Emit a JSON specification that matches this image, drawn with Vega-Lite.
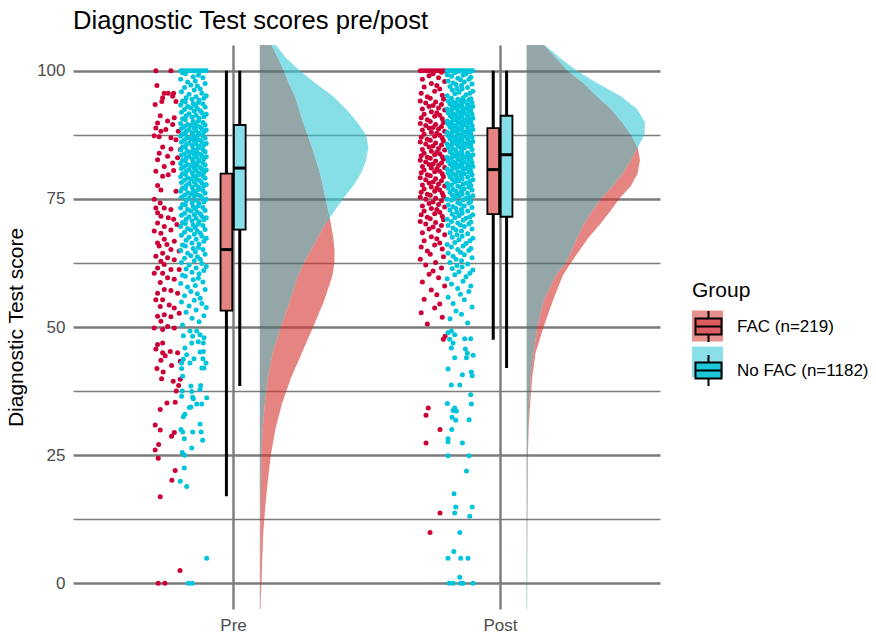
{
"$schema":"https://vega.github.io/schema/vega-lite/v6.json",
"width":587,"height":564,
"autosize":"none",
"padding":{"left":73,"top":45,"right":216,"bottom":26},
"background":"white",
"title":{"text":"Diagnostic Test scores pre/post","anchor":"start","frame":"group","fontSize":25.6,"font":"Liberation Sans","fontWeight":"normal","color":"black","offset":10},
"config":{"view":{"stroke":null},"font":"Liberation Sans"},
"datasets":{
"dens":[
{"time":"Pre","group":"FAC","score":-5,"density":0.018},{"time":"Pre","group":"FAC","score":0,"density":0.043},{"time":"Pre","group":"FAC","score":5,"density":0.063},{"time":"Pre","group":"FAC","score":10,"density":0.088},{"time":"Pre","group":"FAC","score":15,"density":0.138},{"time":"Pre","group":"FAC","score":20,"density":0.2},{"time":"Pre","group":"FAC","score":25,"density":0.275},{"time":"Pre","group":"FAC","score":30,"density":0.388},{"time":"Pre","group":"FAC","score":35,"density":0.55},{"time":"Pre","group":"FAC","score":40,"density":0.775},{"time":"Pre","group":"FAC","score":45,"density":1.05},{"time":"Pre","group":"FAC","score":50,"density":1.33},{"time":"Pre","group":"FAC","score":55,"density":1.6},{"time":"Pre","group":"FAC","score":60,"density":1.81},{"time":"Pre","group":"FAC","score":62.5,"density":1.86},{"time":"Pre","group":"FAC","score":65,"density":1.863},{"time":"Pre","group":"FAC","score":67.5,"density":1.83},{"time":"Pre","group":"FAC","score":70,"density":1.775},{"time":"Pre","group":"FAC","score":72.5,"density":1.713},{"time":"Pre","group":"FAC","score":75,"density":1.638},{"time":"Pre","group":"FAC","score":77.5,"density":1.575},{"time":"Pre","group":"FAC","score":80,"density":1.5},{"time":"Pre","group":"FAC","score":82.5,"density":1.4},{"time":"Pre","group":"FAC","score":85,"density":1.3},{"time":"Pre","group":"FAC","score":87.5,"density":1.188},{"time":"Pre","group":"FAC","score":90,"density":1.075},{"time":"Pre","group":"FAC","score":92.5,"density":0.975},{"time":"Pre","group":"FAC","score":95,"density":0.875},{"time":"Pre","group":"FAC","score":97.5,"density":0.725},{"time":"Pre","group":"FAC","score":100,"density":0.6},{"time":"Pre","group":"FAC","score":102.5,"density":0.45},{"time":"Pre","group":"FAC","score":105,"density":0.293},
{"time":"Pre","group":"No FAC","score":-5,"density":0.008},{"time":"Pre","group":"No FAC","score":0,"density":0.013},{"time":"Pre","group":"No FAC","score":5,"density":0.015},{"time":"Pre","group":"No FAC","score":10,"density":0.018},{"time":"Pre","group":"No FAC","score":15,"density":0.025},{"time":"Pre","group":"No FAC","score":20,"density":0.033},{"time":"Pre","group":"No FAC","score":25,"density":0.043},{"time":"Pre","group":"No FAC","score":30,"density":0.07},{"time":"Pre","group":"No FAC","score":35,"density":0.125},{"time":"Pre","group":"No FAC","score":40,"density":0.2},{"time":"Pre","group":"No FAC","score":45,"density":0.325},{"time":"Pre","group":"No FAC","score":50,"density":0.525},{"time":"Pre","group":"No FAC","score":55,"density":0.75},{"time":"Pre","group":"No FAC","score":60,"density":0.95},{"time":"Pre","group":"No FAC","score":62.5,"density":1.1},{"time":"Pre","group":"No FAC","score":65,"density":1.275},{"time":"Pre","group":"No FAC","score":67.5,"density":1.45},{"time":"Pre","group":"No FAC","score":70,"density":1.625},{"time":"Pre","group":"No FAC","score":72.5,"density":1.85},{"time":"Pre","group":"No FAC","score":75,"density":2.075},{"time":"Pre","group":"No FAC","score":77.5,"density":2.325},{"time":"Pre","group":"No FAC","score":80,"density":2.525},{"time":"Pre","group":"No FAC","score":82.5,"density":2.65},{"time":"Pre","group":"No FAC","score":85,"density":2.708},{"time":"Pre","group":"No FAC","score":87.5,"density":2.65},{"time":"Pre","group":"No FAC","score":90,"density":2.425},{"time":"Pre","group":"No FAC","score":92.5,"density":2.15},{"time":"Pre","group":"No FAC","score":95,"density":1.825},{"time":"Pre","group":"No FAC","score":97.5,"density":1.4},{"time":"Pre","group":"No FAC","score":100,"density":1.0},{"time":"Pre","group":"No FAC","score":102.5,"density":0.65},{"time":"Pre","group":"No FAC","score":105,"density":0.4},
{"time":"Post","group":"FAC","score":-5,"density":0.01},{"time":"Post","group":"FAC","score":0,"density":0.013},{"time":"Post","group":"FAC","score":5,"density":0.015},{"time":"Post","group":"FAC","score":10,"density":0.02},{"time":"Post","group":"FAC","score":15,"density":0.025},{"time":"Post","group":"FAC","score":20,"density":0.03},{"time":"Post","group":"FAC","score":25,"density":0.033},{"time":"Post","group":"FAC","score":30,"density":0.05},{"time":"Post","group":"FAC","score":35,"density":0.088},{"time":"Post","group":"FAC","score":40,"density":0.138},{"time":"Post","group":"FAC","score":45,"density":0.225},{"time":"Post","group":"FAC","score":50,"density":0.425},{"time":"Post","group":"FAC","score":55,"density":0.65},{"time":"Post","group":"FAC","score":60,"density":0.9},{"time":"Post","group":"FAC","score":62.5,"density":1.1},{"time":"Post","group":"FAC","score":65,"density":1.325},{"time":"Post","group":"FAC","score":67.5,"density":1.55},{"time":"Post","group":"FAC","score":70,"density":1.825},{"time":"Post","group":"FAC","score":72.5,"density":2.075},{"time":"Post","group":"FAC","score":75,"density":2.308},{"time":"Post","group":"FAC","score":77.5,"density":2.6},{"time":"Post","group":"FAC","score":80,"density":2.768},{"time":"Post","group":"FAC","score":82.5,"density":2.825},{"time":"Post","group":"FAC","score":85,"density":2.768},{"time":"Post","group":"FAC","score":87.5,"density":2.6},{"time":"Post","group":"FAC","score":90,"density":2.375},{"time":"Post","group":"FAC","score":92.5,"density":2.1},{"time":"Post","group":"FAC","score":95,"density":1.75},{"time":"Post","group":"FAC","score":97.5,"density":1.425},{"time":"Post","group":"FAC","score":100,"density":1.025},{"time":"Post","group":"FAC","score":102.5,"density":0.725},{"time":"Post","group":"FAC","score":105,"density":0.433},
{"time":"Post","group":"No FAC","score":-5,"density":0.013},{"time":"Post","group":"No FAC","score":0,"density":0.018},{"time":"Post","group":"No FAC","score":5,"density":0.018},{"time":"Post","group":"No FAC","score":10,"density":0.018},{"time":"Post","group":"No FAC","score":15,"density":0.02},{"time":"Post","group":"No FAC","score":20,"density":0.023},{"time":"Post","group":"No FAC","score":25,"density":0.025},{"time":"Post","group":"No FAC","score":30,"density":0.038},{"time":"Post","group":"No FAC","score":35,"density":0.063},{"time":"Post","group":"No FAC","score":40,"density":0.1},{"time":"Post","group":"No FAC","score":45,"density":0.175},{"time":"Post","group":"No FAC","score":50,"density":0.268},{"time":"Post","group":"No FAC","score":55,"density":0.42},{"time":"Post","group":"No FAC","score":60,"density":0.72},{"time":"Post","group":"No FAC","score":62.5,"density":0.98},{"time":"Post","group":"No FAC","score":65,"density":1.13},{"time":"Post","group":"No FAC","score":67.5,"density":1.27},{"time":"Post","group":"No FAC","score":70,"density":1.425},{"time":"Post","group":"No FAC","score":72.5,"density":1.625},{"time":"Post","group":"No FAC","score":75,"density":1.85},{"time":"Post","group":"No FAC","score":77.5,"density":2.15},{"time":"Post","group":"No FAC","score":80,"density":2.4},{"time":"Post","group":"No FAC","score":82.5,"density":2.6},{"time":"Post","group":"No FAC","score":85,"density":2.768},{"time":"Post","group":"No FAC","score":87.5,"density":2.938},{"time":"Post","group":"No FAC","score":90,"density":2.95},{"time":"Post","group":"No FAC","score":92.5,"density":2.75},{"time":"Post","group":"No FAC","score":95,"density":2.35},{"time":"Post","group":"No FAC","score":97.5,"density":1.775},{"time":"Post","group":"No FAC","score":100,"density":1.25},{"time":"Post","group":"No FAC","score":102.5,"density":0.825},{"time":"Post","group":"No FAC","score":105,"density":0.45}
],
"boxes":[
{"time":"Pre","group":"FAC","lo":17,"q1":53.2,"med":65.1,"q3":79.9,"hi":100},
{"time":"Pre","group":"No FAC","lo":38.5,"q1":69,"med":81,"q3":89.4,"hi":100},
{"time":"Post","group":"FAC","lo":47.5,"q1":72,"med":80.7,"q3":88.8,"hi":100},
{"time":"Post","group":"No FAC","lo":42,"q1":71.5,"med":83.6,"q3":91.2,"hi":100}
],
"pre_fac":[
{"s":100,"j":-0.83},{"s":100,"j":0.3},{"s":97.1,"j":-0.75},{"s":95.6,"j":-0.2},{"s":95.6,"j":0.1},{"s":95.6,"j":0.5},{"s":94.7,"j":-0.32},{"s":94.0,"j":-0.38},{"s":93.4,"j":-0.88},{"s":94.0,"j":0.68},{"s":95.0,"j":0.43},{"s":91.2,"j":-0.5},{"s":90.8,"j":0.55},{"s":90.2,"j":0.05},{"s":89.8,"j":-0.7},{"s":89.5,"j":0.43},{"s":88.8,"j":-0.83},{"s":88.5,"j":-0.08},{"s":88.2,"j":-0.45},{"s":88.2,"j":0.85},{"s":87.3,"j":-0.95},{"s":87.1,"j":-0.58},{"s":86.9,"j":0.3},{"s":86.5,"j":0.68},{"s":85.1,"j":-0.32},{"s":84.7,"j":0.3},{"s":84.6,"j":1.0},{"s":83.9,"j":-0.58},{"s":83.3,"j":0.05},{"s":82.6,"j":-0.7},{"s":83.0,"j":0.8},{"s":82.0,"j":0.43},{"s":81.3,"j":-0.2},{"s":80.4,"j":-0.83},{"s":80.5,"j":0.5},{"s":79.7,"j":0.1},{"s":79.4,"j":-0.32},{"s":77.6,"j":-0.7},{"s":76.7,"j":-0.45},{"s":76.5,"j":0.68},{"s":74.9,"j":-0.95},{"s":74.2,"j":-0.5},{"s":73.2,"j":-0.83},{"s":73.2,"j":-0.2},{"s":72.9,"j":0.3},{"s":72.3,"j":-0.7},{"s":71.6,"j":-0.45},{"s":71.3,"j":0.1},{"s":71.0,"j":0.5},{"s":70.3,"j":-0.7},{"s":69.6,"j":-0.2},{"s":70.0,"j":0.75},{"s":68.7,"j":-0.95},{"s":68.3,"j":-0.45},{"s":68.9,"j":0.3},{"s":67.1,"j":-0.2},{"s":66.4,"j":-0.7},{"s":66.7,"j":0.55},{"s":66.1,"j":0.0},{"s":65.8,"j":-0.58},{"s":65.1,"j":0.3},{"s":64.4,"j":-0.32},{"s":64.8,"j":0.92},{"s":63.8,"j":-0.83},{"s":63.5,"j":0.05},{"s":62.8,"j":-0.45},{"s":63.1,"j":0.55},{"s":62.2,"j":-0.2},{"s":61.5,"j":-0.7},{"s":61.2,"j":0.3},{"s":61.2,"j":0.92},{"s":60.5,"j":-0.32},{"s":60.5,"j":-0.95},{"s":59.6,"j":0.05},{"s":59.3,"j":0.55},{"s":58.7,"j":-0.5},{"s":57.3,"j":-0.2},{"s":57.1,"j":0.3},{"s":56.6,"j":-0.7},{"s":56.6,"j":0.8},{"s":55.3,"j":-0.32},{"s":55.3,"j":-0.83},{"s":54.3,"j":0.17},{"s":54.0,"j":-0.5},{"s":53.7,"j":0.55},{"s":52.4,"j":-0.2},{"s":52.1,"j":-0.7},{"s":52.0,"j":0.3},{"s":52.7,"j":0.92},{"s":51.1,"j":-0.45},{"s":50.1,"j":0.05},{"s":49.8,"j":0.55},{"s":49.5,"j":-0.32},{"s":49.8,"j":-0.95},
{"s":46.6,"j":-0.7},{"s":46.9,"j":-0.32},{"s":45.7,"j":-0.83},{"s":45.0,"j":-0.32},{"s":44.4,"j":-0.13},{"s":45.2,"j":0.25},{"s":45.0,"j":0.8},{"s":43.5,"j":-0.45},{"s":43.3,"j":1.0},{"s":42.5,"j":0.35},{"s":41.9,"j":-0.75},{"s":41.2,"j":-0.28},{"s":39.9,"j":-0.4},{"s":39.4,"j":0.47},{"s":39.8,"j":1.0},{"s":38.6,"j":0.88},{"s":37.5,"j":0.7},{"s":35.2,"j":0.0},{"s":35.3,"j":0.62},{"s":33.9,"j":-0.5},{"s":30.9,"j":-0.88},{"s":29.9,"j":-0.5},{"s":29.4,"j":0.55},{"s":28.7,"j":0.35},{"s":27.1,"j":-0.62},{"s":26.0,"j":-0.88},{"s":24.4,"j":-0.65},{"s":22.0,"j":0.62},{"s":20.1,"j":0.37},{"s":16.9,"j":-0.5},{"s":2.5,"j":0.98},{"s":0,"j":-0.65},{"s":0,"j":-0.15}
],
"post_fac":[
{"s":48.2,"j":0.93},{"s":47.6,"j":0.8},{"s":34.2,"j":-0.33},{"s":32.8,"j":-0.5},{"s":30.0,"j":0.55},{"s":27.4,"j":-0.5},{"s":13.7,"j":0.55},{"s":9.9,"j":-0.2},
{"s":50.6,"j":-0.4},{"s":51.9,"j":0.72},{"s":52.8,"j":-0.86},{"s":53.7,"j":0.15},{"s":54.5,"j":0.53},{"s":55.4,"j":-0.64},{"s":56.3,"j":0.31},{"s":57.2,"j":-0.1},{"s":58.0,"j":0.9},{"s":58.8,"j":-0.77},{"s":59.6,"j":0.44},{"s":60.3,"j":-0.27},{"s":60.9,"j":0.03},{"s":61.5,"j":0.66},{"s":62.1,"j":-0.52},{"s":62.6,"j":0.22},{"s":63.2,"j":-0.93},{"s":63.7,"j":0.81},{"s":64.2,"j":-0.18},
{"s":64.8,"j":-0.4},{"s":65.2,"j":0.72},{"s":65.6,"j":-0.86},{"s":66.0,"j":0.15},{"s":66.4,"j":0.53},{"s":66.8,"j":-0.64},{"s":67.2,"j":0.31},{"s":67.6,"j":-0.1},{"s":68.0,"j":0.9},{"s":68.4,"j":-0.77},{"s":68.8,"j":0.44},{"s":69.1,"j":-0.27},{"s":69.5,"j":0.03},{"s":69.8,"j":0.66},{"s":70.1,"j":-0.52},{"s":70.4,"j":0.22},{"s":70.6,"j":-0.93},{"s":70.9,"j":0.81},{"s":71.1,"j":-0.18},
{"s":71.4,"j":-0.4},{"s":71.6,"j":0.72},{"s":71.9,"j":-0.86},{"s":72.1,"j":0.15},{"s":72.4,"j":0.53},{"s":72.6,"j":-0.64},{"s":72.9,"j":0.31},{"s":73.1,"j":-0.1},{"s":73.4,"j":0.9},{"s":73.6,"j":-0.77},{"s":73.9,"j":0.44},{"s":74.1,"j":-0.27},{"s":74.4,"j":0.03},{"s":74.6,"j":0.66},{"s":74.9,"j":-0.52},{"s":75.1,"j":0.22},{"s":75.3,"j":-0.93},{"s":75.5,"j":0.81},{"s":75.7,"j":-0.18},
{"s":75.9,"j":-0.4},{"s":76.1,"j":0.72},{"s":76.3,"j":-0.86},{"s":76.5,"j":0.15},{"s":76.7,"j":0.53},{"s":76.9,"j":-0.64},{"s":77.1,"j":0.31},{"s":77.3,"j":-0.1},{"s":77.5,"j":0.9},{"s":77.7,"j":-0.77},{"s":77.9,"j":0.44},{"s":78.1,"j":-0.27},{"s":78.3,"j":0.03},{"s":78.5,"j":0.66},{"s":78.7,"j":-0.52},{"s":78.9,"j":0.22},{"s":79.1,"j":-0.93},{"s":79.3,"j":0.81},{"s":79.5,"j":-0.18},
{"s":79.7,"j":-0.4},{"s":79.9,"j":0.72},{"s":80.1,"j":-0.86},{"s":80.3,"j":0.15},{"s":80.4,"j":0.53},{"s":80.6,"j":-0.64},{"s":80.8,"j":0.31},{"s":81.0,"j":-0.1},{"s":81.1,"j":0.9},{"s":81.3,"j":-0.77},{"s":81.5,"j":0.44},{"s":81.7,"j":-0.27},{"s":81.8,"j":0.03},{"s":82.0,"j":0.66},{"s":82.2,"j":-0.52},{"s":82.4,"j":0.22},{"s":82.5,"j":-0.93},{"s":82.7,"j":0.81},{"s":82.9,"j":-0.18},
{"s":83.1,"j":-0.4},{"s":83.2,"j":0.72},{"s":83.4,"j":-0.86},{"s":83.6,"j":0.15},{"s":83.8,"j":0.53},{"s":83.9,"j":-0.64},{"s":84.1,"j":0.31},{"s":84.3,"j":-0.1},{"s":84.5,"j":0.9},{"s":84.6,"j":-0.77},{"s":84.8,"j":0.44},{"s":85.1,"j":-0.27},{"s":85.3,"j":0.03},{"s":85.5,"j":0.66},{"s":85.7,"j":-0.52},{"s":85.9,"j":0.22},{"s":86.1,"j":-0.93},{"s":86.3,"j":0.81},{"s":86.4,"j":-0.18},
{"s":86.6,"j":-0.4},{"s":86.8,"j":0.72},{"s":87.0,"j":-0.86},{"s":87.2,"j":0.15},{"s":87.4,"j":0.53},{"s":87.6,"j":-0.64},{"s":87.8,"j":0.31},{"s":88.0,"j":-0.1},{"s":88.2,"j":0.9},{"s":88.4,"j":-0.77},{"s":88.6,"j":0.44},{"s":88.8,"j":-0.27},{"s":88.9,"j":0.03},{"s":89.1,"j":0.66},{"s":89.3,"j":-0.52},{"s":89.5,"j":0.22},{"s":89.7,"j":-0.93},{"s":89.9,"j":0.81},{"s":90.1,"j":-0.18},
{"s":90.4,"j":-0.4},{"s":90.6,"j":0.72},{"s":90.8,"j":-0.86},{"s":91.1,"j":0.15},{"s":91.3,"j":0.53},{"s":91.5,"j":-0.64},{"s":91.8,"j":0.31},{"s":92.0,"j":-0.1},{"s":92.3,"j":0.9},{"s":92.5,"j":-0.77},{"s":92.7,"j":0.44},{"s":93.0,"j":-0.27},{"s":93.2,"j":0.03},{"s":93.4,"j":0.66},{"s":93.7,"j":-0.52},{"s":93.9,"j":0.22},{"s":94.1,"j":-0.93},{"s":94.4,"j":0.81},{"s":94.6,"j":-0.18},
{"s":94.9,"j":-0.4},{"s":95.2,"j":0.72},{"s":95.6,"j":-0.86},{"s":96.0,"j":0.15},{"s":96.4,"j":0.53},{"s":96.8,"j":-0.64},{"s":97.1,"j":0.31},{"s":97.5,"j":-0.1},{"s":97.9,"j":0.9},{"s":98.3,"j":-0.77},{"s":98.6,"j":0.44},{"s":99.0,"j":-0.27},{"s":99.4,"j":0.03},{"s":99.7,"j":0.66},
{"s":100,"j":-0.92},{"s":100,"j":-0.72},{"s":100,"j":-0.52},{"s":100,"j":-0.32},{"s":100,"j":-0.12},{"s":100,"j":0.08},{"s":100,"j":0.28},{"s":100,"j":0.48},{"s":100,"j":0.68},{"s":100,"j":0.88}
],
"pre_nofac":[
{"s":49.2,"j":-0.27},{"s":49.2,"j":0.23},{"s":48.5,"j":0.48},{"s":48.2,"j":-0.07},{"s":48.3,"j":-0.77},{"s":47.9,"j":0.78},{"s":47.1,"j":0.35},{"s":46.9,"j":-0.14},{"s":46.9,"j":0.73},{"s":45.9,"j":-0.65},{"s":44.6,"j":-0.52},{"s":43.7,"j":-0.77},{"s":43.0,"j":-0.9},{"s":43.0,"j":-0.27},{"s":43.8,"j":0.03},{"s":45.1,"j":0.48},{"s":45.2,"j":0.73},{"s":43.0,"j":0.93},{"s":43.8,"j":0.7},{"s":42.0,"j":0.78},{"s":42.0,"j":0.62},{"s":41.9,"j":-0.9},{"s":40.4,"j":-0.82},{"s":37.5,"j":-0.85},{"s":38.5,"j":-0.2},{"s":38.6,"j":0.53},{"s":37.8,"j":0.48},{"s":37.4,"j":-0.14},{"s":36.5,"j":-0.9},{"s":36.3,"j":-0.07},{"s":36.0,"j":-0.02},{"s":36.2,"j":0.98},{"s":35.0,"j":0.23},{"s":35.0,"j":0.61},{"s":34.4,"j":-0.2},{"s":34.3,"j":-0.32},{"s":33.0,"j":-0.65},{"s":32.5,"j":-0.77},{"s":31.1,"j":0.48},{"s":30.0,"j":-0.95},{"s":29.5,"j":-0.82},{"s":29.5,"j":-0.07},{"s":29.5,"j":0.56},{"s":27.9,"j":0.68},{"s":28.2,"j":-0.7},{"s":26.4,"j":-0.14},{"s":25.5,"j":-0.85},{"s":25.0,"j":-0.67},{"s":22.5,"j":-0.7},{"s":19.9,"j":-1.0},{"s":18.9,"j":-0.52},{"s":4.9,"j":0.98},{"s":0,"j":-0.4},{"s":0,"j":-0.1},
{"s":50.4,"j":-0.83},{"s":51.0,"j":0.41},{"s":51.7,"j":-0.12},{"s":52.2,"j":0.77},{"s":52.9,"j":-0.56},{"s":53.3,"j":0.19},{"s":53.8,"j":0.95},{"s":54.1,"j":-0.34},{"s":54.6,"j":0.62},{"s":54.9,"j":-0.91},{"s":55.2,"j":0.05},{"s":55.6,"j":0.5},{"s":56.1,"j":-0.68},{"s":56.5,"j":0.28},{"s":56.9,"j":-0.21},{"s":57.3,"j":0.86},{"s":57.8,"j":-0.45},{"s":58.1,"j":0.13},{"s":58.5,"j":-0.97},{"s":58.8,"j":0.7},{"s":59.2,"j":-0.03},{"s":59.5,"j":0.36},{"s":59.9,"j":-0.62},
{"s":60.1,"j":-0.83},{"s":60.4,"j":0.41},{"s":60.7,"j":-0.12},{"s":61.0,"j":0.77},{"s":61.3,"j":-0.56},{"s":61.5,"j":0.19},{"s":61.8,"j":0.95},{"s":62.1,"j":-0.34},{"s":62.4,"j":0.62},{"s":62.6,"j":-0.91},{"s":62.9,"j":0.05},{"s":63.2,"j":0.5},{"s":63.4,"j":-0.68},{"s":63.7,"j":0.28},{"s":63.9,"j":-0.21},{"s":64.2,"j":0.86},{"s":64.4,"j":-0.45},{"s":64.7,"j":0.13},{"s":64.9,"j":-0.97},{"s":65.1,"j":0.7},{"s":65.3,"j":-0.03},{"s":65.5,"j":0.36},{"s":65.8,"j":-0.62},
{"s":66.0,"j":-0.83},{"s":66.2,"j":0.41},{"s":66.4,"j":-0.12},{"s":66.7,"j":0.77},{"s":66.9,"j":-0.56},{"s":67.1,"j":0.19},{"s":67.3,"j":0.95},{"s":67.5,"j":-0.34},{"s":67.7,"j":0.62},{"s":67.9,"j":-0.91},{"s":68.1,"j":0.05},{"s":68.3,"j":0.5},{"s":68.5,"j":-0.68},{"s":68.7,"j":0.28},{"s":68.9,"j":-0.21},{"s":69.0,"j":0.86},{"s":69.2,"j":-0.45},{"s":69.4,"j":0.13},{"s":69.6,"j":-0.97},{"s":69.8,"j":0.7},{"s":69.9,"j":-0.03},{"s":70.1,"j":0.36},{"s":70.2,"j":-0.62},
{"s":70.4,"j":-0.83},{"s":70.6,"j":0.41},{"s":70.7,"j":-0.12},{"s":70.9,"j":0.77},{"s":71.0,"j":-0.56},{"s":71.2,"j":0.19},{"s":71.3,"j":0.95},{"s":71.5,"j":-0.34},{"s":71.6,"j":0.62},{"s":71.8,"j":-0.91},{"s":71.9,"j":0.05},{"s":72.1,"j":0.5},{"s":72.2,"j":-0.68},{"s":72.4,"j":0.28},{"s":72.6,"j":-0.21},{"s":72.7,"j":0.86},{"s":72.9,"j":-0.45},{"s":73.0,"j":0.13},{"s":73.2,"j":-0.97},{"s":73.3,"j":0.7},{"s":73.5,"j":-0.03},{"s":73.6,"j":0.36},{"s":73.8,"j":-0.62},
{"s":73.9,"j":-0.83},{"s":74.1,"j":0.41},{"s":74.2,"j":-0.12},{"s":74.4,"j":0.77},{"s":74.6,"j":-0.56},{"s":74.7,"j":0.19},{"s":74.9,"j":0.95},{"s":75.1,"j":-0.34},{"s":75.2,"j":0.62},{"s":75.3,"j":-0.91},{"s":75.5,"j":0.05},{"s":75.6,"j":0.5},{"s":75.7,"j":-0.68},{"s":75.8,"j":0.28},{"s":76.0,"j":-0.21},{"s":76.1,"j":0.86},{"s":76.2,"j":-0.45},{"s":76.3,"j":0.13},{"s":76.5,"j":-0.97},{"s":76.6,"j":0.7},{"s":76.7,"j":-0.03},{"s":76.8,"j":0.36},{"s":77.0,"j":-0.62},
{"s":77.1,"j":-0.83},{"s":77.2,"j":0.41},{"s":77.3,"j":-0.12},{"s":77.5,"j":0.77},{"s":77.6,"j":-0.56},{"s":77.7,"j":0.19},{"s":77.8,"j":0.95},{"s":78.0,"j":-0.34},{"s":78.1,"j":0.62},{"s":78.2,"j":-0.91},{"s":78.3,"j":0.05},{"s":78.5,"j":0.5},{"s":78.6,"j":-0.68},{"s":78.7,"j":0.28},{"s":78.8,"j":-0.21},{"s":79.0,"j":0.86},{"s":79.1,"j":-0.45},{"s":79.2,"j":0.13},{"s":79.3,"j":-0.97},{"s":79.5,"j":0.7},{"s":79.6,"j":-0.03},{"s":79.7,"j":0.36},{"s":79.8,"j":-0.62},
{"s":79.9,"j":-0.83},{"s":80.0,"j":0.41},{"s":80.1,"j":-0.12},{"s":80.2,"j":0.77},{"s":80.4,"j":-0.56},{"s":80.5,"j":0.19},{"s":80.6,"j":0.95},{"s":80.7,"j":-0.34},{"s":80.8,"j":0.62},{"s":80.9,"j":-0.91},{"s":81.0,"j":0.05},{"s":81.1,"j":0.5},{"s":81.3,"j":-0.68},{"s":81.4,"j":0.28},{"s":81.5,"j":-0.21},{"s":81.6,"j":0.86},{"s":81.7,"j":-0.45},{"s":81.8,"j":0.13},{"s":81.9,"j":-0.97},{"s":82.0,"j":0.7},{"s":82.2,"j":-0.03},{"s":82.3,"j":0.36},{"s":82.4,"j":-0.62},
{"s":82.5,"j":-0.83},{"s":82.6,"j":0.41},{"s":82.7,"j":-0.12},{"s":82.8,"j":0.77},{"s":82.9,"j":-0.56},{"s":83.1,"j":0.19},{"s":83.2,"j":0.95},{"s":83.3,"j":-0.34},{"s":83.4,"j":0.62},{"s":83.5,"j":-0.91},{"s":83.6,"j":0.05},{"s":83.7,"j":0.5},{"s":83.8,"j":-0.68},{"s":84.0,"j":0.28},{"s":84.1,"j":-0.21},{"s":84.2,"j":0.86},{"s":84.3,"j":-0.45},{"s":84.4,"j":0.13},{"s":84.5,"j":-0.97},{"s":84.6,"j":0.7},{"s":84.7,"j":-0.03},{"s":84.9,"j":0.36},{"s":85.0,"j":-0.62},
{"s":85.1,"j":-0.83},{"s":85.2,"j":0.41},{"s":85.4,"j":-0.12},{"s":85.5,"j":0.77},{"s":85.6,"j":-0.56},{"s":85.7,"j":0.19},{"s":85.8,"j":0.95},{"s":85.9,"j":-0.34},{"s":86.0,"j":0.62},{"s":86.1,"j":-0.91},{"s":86.3,"j":0.05},{"s":86.4,"j":0.5},{"s":86.5,"j":-0.68},{"s":86.6,"j":0.28},{"s":86.7,"j":-0.21},{"s":86.8,"j":0.86},{"s":86.9,"j":-0.45},{"s":87.0,"j":0.13},{"s":87.2,"j":-0.97},{"s":87.3,"j":0.7},{"s":87.4,"j":-0.03},{"s":87.5,"j":0.36},{"s":87.6,"j":-0.62},
{"s":87.7,"j":-0.83},{"s":87.8,"j":0.41},{"s":87.9,"j":-0.12},{"s":88.1,"j":0.77},{"s":88.2,"j":-0.56},{"s":88.3,"j":0.19},{"s":88.4,"j":0.95},{"s":88.5,"j":-0.34},{"s":88.6,"j":0.62},{"s":88.7,"j":-0.91},{"s":88.8,"j":0.05},{"s":89.0,"j":0.5},{"s":89.1,"j":-0.68},{"s":89.2,"j":0.28},{"s":89.3,"j":-0.21},{"s":89.4,"j":0.86},{"s":89.5,"j":-0.45},{"s":89.6,"j":0.13},{"s":89.7,"j":-0.97},{"s":89.9,"j":0.7},{"s":90.1,"j":-0.03},{"s":90.2,"j":0.36},{"s":90.4,"j":-0.62},
{"s":90.6,"j":-0.83},{"s":90.7,"j":0.41},{"s":90.9,"j":-0.12},{"s":91.0,"j":0.77},{"s":91.2,"j":-0.56},{"s":91.3,"j":0.19},{"s":91.5,"j":0.95},{"s":91.6,"j":-0.34},{"s":91.8,"j":0.62},{"s":91.9,"j":-0.91},{"s":92.1,"j":0.05},{"s":92.2,"j":0.5},{"s":92.4,"j":-0.68},{"s":92.6,"j":0.28},{"s":92.7,"j":-0.21},{"s":92.9,"j":0.86},{"s":93.0,"j":-0.45},{"s":93.2,"j":0.13},{"s":93.3,"j":-0.97},{"s":93.5,"j":0.7},{"s":93.6,"j":-0.03},{"s":93.8,"j":0.36},{"s":93.9,"j":-0.62},
{"s":94.1,"j":-0.83},{"s":94.2,"j":0.41},{"s":94.4,"j":-0.12},{"s":94.6,"j":0.77},{"s":94.7,"j":-0.56},{"s":94.9,"j":0.19},{"s":95.1,"j":0.95},{"s":95.4,"j":-0.34},{"s":95.6,"j":0.62},{"s":95.9,"j":-0.91},{"s":96.2,"j":0.05},{"s":96.4,"j":0.5},{"s":96.7,"j":-0.68},{"s":97.0,"j":0.28},{"s":97.2,"j":-0.21},{"s":97.5,"j":0.86},{"s":97.8,"j":-0.45},{"s":98.0,"j":0.13},{"s":98.3,"j":-0.97},{"s":98.6,"j":0.7},{"s":98.8,"j":-0.03},{"s":99.1,"j":0.36},{"s":99.4,"j":-0.62},
{"s":99.6,"j":-0.83},{"s":99.8,"j":0.41},
{"s":100,"j":-0.95},{"s":100,"j":-0.78},{"s":100,"j":-0.6},{"s":100,"j":-0.43},{"s":100,"j":-0.26},{"s":100,"j":-0.09},{"s":100,"j":0.08},{"s":100,"j":0.25},{"s":100,"j":0.42},{"s":100,"j":0.6},{"s":100,"j":0.77},{"s":100,"j":0.94}
],
"post_nofac":[
{"s":48.9,"j":-0.89},{"s":49.2,"j":-0.64},{"s":48.5,"j":-0.39},{"s":47.6,"j":-0.77},{"s":46.9,"j":-0.51},{"s":45.9,"j":-0.64},{"s":47.7,"j":0.36},{"s":47.7,"j":0.81},{"s":45.7,"j":0.41},{"s":44.9,"j":0.56},{"s":44.0,"j":0.49},{"s":44.5,"j":1.0},{"s":44.0,"j":-0.39},{"s":41.8,"j":-0.89},{"s":40.7,"j":0.19},{"s":41.2,"j":0.86},{"s":40.5,"j":0.92},{"s":38.7,"j":-0.64},{"s":38.7,"j":-0.01},{"s":36.8,"j":0.81},{"s":35.1,"j":-0.94},{"s":35.0,"j":0.86},{"s":34.2,"j":-0.39},{"s":33.6,"j":-0.26},{"s":33.7,"j":-0.51},{"s":32.4,"j":-0.59},{"s":31.8,"j":-0.31},{"s":31.9,"j":0.69},{"s":30.0,"j":-0.61},{"s":28.2,"j":-0.89},{"s":27.6,"j":-0.89},{"s":27.4,"j":0.19},{"s":24.9,"j":-0.89},{"s":24.9,"j":0.69},{"s":21.9,"j":0.49},{"s":17.5,"j":-0.44},{"s":14.9,"j":-0.31},{"s":14.9,"j":0.92},{"s":13.7,"j":-0.39},{"s":13.1,"j":0.74},{"s":9.9,"j":-0.01},{"s":6.2,"j":-0.46},{"s":4.9,"j":-0.89},{"s":4.9,"j":0.06},{"s":4.9,"j":0.61},{"s":1.2,"j":-0.01},{"s":0,"j":-0.81},{"s":0,"j":-0.51},{"s":0,"j":0.06},{"s":0,"j":0.24},{"s":0,"j":0.99},
{"s":50.8,"j":0.58},{"s":51.6,"j":-0.74},{"s":52.5,"j":0.12},{"s":53.1,"j":-0.29},{"s":53.9,"j":0.91},{"s":54.6,"j":-0.51},{"s":55.3,"j":0.33},{"s":55.8,"j":-0.88},{"s":56.4,"j":0.04},{"s":56.9,"j":0.67},{"s":57.5,"j":-0.16},{"s":58.0,"j":0.82},{"s":58.4,"j":-0.63},{"s":58.9,"j":0.24},{"s":59.4,"j":-0.95},{"s":59.8,"j":0.46},{"s":60.2,"j":-0.38},{"s":60.5,"j":0.75},{"s":60.8,"j":-0.07},{"s":61.1,"j":0.97},{"s":61.4,"j":-0.57},{"s":61.7,"j":0.17},{"s":62.0,"j":-0.22},
{"s":62.3,"j":0.58},{"s":62.6,"j":-0.74},{"s":62.9,"j":0.12},{"s":63.2,"j":-0.29},{"s":63.5,"j":0.91},{"s":63.8,"j":-0.51},{"s":64.1,"j":0.33},{"s":64.4,"j":-0.88},{"s":64.6,"j":0.04},{"s":64.9,"j":0.67},{"s":65.1,"j":-0.16},{"s":65.3,"j":0.82},{"s":65.6,"j":-0.63},{"s":65.8,"j":0.24},{"s":66.1,"j":-0.95},{"s":66.3,"j":0.46},{"s":66.5,"j":-0.38},{"s":66.8,"j":0.75},{"s":67.0,"j":-0.07},{"s":67.3,"j":0.97},{"s":67.5,"j":-0.57},{"s":67.7,"j":0.17},{"s":68.0,"j":-0.22},
{"s":68.2,"j":0.58},{"s":68.4,"j":-0.74},{"s":68.7,"j":0.12},{"s":68.9,"j":-0.29},{"s":69.1,"j":0.91},{"s":69.3,"j":-0.51},{"s":69.6,"j":0.33},{"s":69.8,"j":-0.88},{"s":69.9,"j":0.04},{"s":70.1,"j":0.67},{"s":70.3,"j":-0.16},{"s":70.5,"j":0.82},{"s":70.6,"j":-0.63},{"s":70.8,"j":0.24},{"s":71.0,"j":-0.95},{"s":71.2,"j":0.46},{"s":71.3,"j":-0.38},{"s":71.5,"j":0.75},{"s":71.7,"j":-0.07},{"s":71.9,"j":0.97},{"s":72.0,"j":-0.57},{"s":72.2,"j":0.17},{"s":72.4,"j":-0.22},
{"s":72.6,"j":0.58},{"s":72.8,"j":-0.74},{"s":72.9,"j":0.12},{"s":73.1,"j":-0.29},{"s":73.3,"j":0.91},{"s":73.5,"j":-0.51},{"s":73.6,"j":0.33},{"s":73.8,"j":-0.88},{"s":74.0,"j":0.04},{"s":74.2,"j":0.67},{"s":74.3,"j":-0.16},{"s":74.5,"j":0.82},{"s":74.7,"j":-0.63},{"s":74.8,"j":0.24},{"s":74.9,"j":-0.95},{"s":75.1,"j":0.46},{"s":75.2,"j":-0.38},{"s":75.3,"j":0.75},{"s":75.5,"j":-0.07},{"s":75.6,"j":0.97},{"s":75.7,"j":-0.57},{"s":75.9,"j":0.17},{"s":76.0,"j":-0.22},
{"s":76.1,"j":0.58},{"s":76.3,"j":-0.74},{"s":76.4,"j":0.12},{"s":76.5,"j":-0.29},{"s":76.7,"j":0.91},{"s":76.8,"j":-0.51},{"s":76.9,"j":0.33},{"s":77.1,"j":-0.88},{"s":77.2,"j":0.04},{"s":77.3,"j":0.67},{"s":77.5,"j":-0.16},{"s":77.6,"j":0.82},{"s":77.7,"j":-0.63},{"s":77.9,"j":0.24},{"s":78.0,"j":-0.95},{"s":78.1,"j":0.46},{"s":78.3,"j":-0.38},{"s":78.4,"j":0.75},{"s":78.5,"j":-0.07},{"s":78.7,"j":0.97},{"s":78.8,"j":-0.57},{"s":78.9,"j":0.17},{"s":79.1,"j":-0.22},
{"s":79.2,"j":0.58},{"s":79.3,"j":-0.74},{"s":79.5,"j":0.12},{"s":79.6,"j":-0.29},{"s":79.7,"j":0.91},{"s":79.8,"j":-0.51},{"s":79.9,"j":0.33},{"s":80.0,"j":-0.88},{"s":80.1,"j":0.04},{"s":80.2,"j":0.67},{"s":80.3,"j":-0.16},{"s":80.4,"j":0.82},{"s":80.5,"j":-0.63},{"s":80.7,"j":0.24},{"s":80.8,"j":-0.95},{"s":80.9,"j":0.46},{"s":81.0,"j":-0.38},{"s":81.1,"j":0.75},{"s":81.2,"j":-0.07},{"s":81.3,"j":0.97},{"s":81.4,"j":-0.57},{"s":81.5,"j":0.17},{"s":81.6,"j":-0.22},
{"s":81.7,"j":0.58},{"s":81.8,"j":-0.74},{"s":81.9,"j":0.12},{"s":82.0,"j":-0.29},{"s":82.1,"j":0.91},{"s":82.2,"j":-0.51},{"s":82.3,"j":0.33},{"s":82.4,"j":-0.88},{"s":82.5,"j":0.04},{"s":82.6,"j":0.67},{"s":82.7,"j":-0.16},{"s":82.8,"j":0.82},{"s":82.9,"j":-0.63},{"s":83.0,"j":0.24},{"s":83.1,"j":-0.95},{"s":83.2,"j":0.46},{"s":83.3,"j":-0.38},{"s":83.4,"j":0.75},{"s":83.5,"j":-0.07},{"s":83.6,"j":0.97},{"s":83.7,"j":-0.57},{"s":83.8,"j":0.17},{"s":83.9,"j":-0.22},
{"s":84.0,"j":0.58},{"s":84.2,"j":-0.74},{"s":84.3,"j":0.12},{"s":84.4,"j":-0.29},{"s":84.6,"j":0.91},{"s":84.7,"j":-0.51},{"s":84.9,"j":0.33},{"s":85.0,"j":-0.88},{"s":85.1,"j":0.04},{"s":85.2,"j":0.67},{"s":85.3,"j":-0.16},{"s":85.4,"j":0.82},{"s":85.5,"j":-0.63},{"s":85.6,"j":0.24},{"s":85.7,"j":-0.95},{"s":85.8,"j":0.46},{"s":85.9,"j":-0.38},{"s":86.0,"j":0.75},{"s":86.1,"j":-0.07},{"s":86.2,"j":0.97},{"s":86.3,"j":-0.57},{"s":86.4,"j":0.17},{"s":86.5,"j":-0.22},
{"s":86.6,"j":0.58},{"s":86.7,"j":-0.74},{"s":86.8,"j":0.12},{"s":86.9,"j":-0.29},{"s":87.0,"j":0.91},{"s":87.1,"j":-0.51},{"s":87.2,"j":0.33},{"s":87.3,"j":-0.88},{"s":87.4,"j":0.04},{"s":87.5,"j":0.67},{"s":87.6,"j":-0.16},{"s":87.7,"j":0.82},{"s":87.8,"j":-0.63},{"s":87.9,"j":0.24},{"s":88.0,"j":-0.95},{"s":88.1,"j":0.46},{"s":88.2,"j":-0.38},{"s":88.3,"j":0.75},{"s":88.4,"j":-0.07},{"s":88.5,"j":0.97},{"s":88.6,"j":-0.57},{"s":88.7,"j":0.17},{"s":88.8,"j":-0.22},
{"s":88.9,"j":0.58},{"s":89.0,"j":-0.74},{"s":89.1,"j":0.12},{"s":89.2,"j":-0.29},{"s":89.3,"j":0.91},{"s":89.4,"j":-0.51},{"s":89.5,"j":0.33},{"s":89.6,"j":-0.88},{"s":89.7,"j":0.04},{"s":89.8,"j":0.67},{"s":89.9,"j":-0.16},{"s":89.95,"j":0.82},{"s":90.0,"j":-0.63},{"s":90.1,"j":0.24},{"s":90.2,"j":-0.95},{"s":90.3,"j":0.46},{"s":90.4,"j":-0.38},{"s":90.5,"j":0.75},{"s":90.6,"j":-0.07},{"s":90.7,"j":0.97},{"s":90.8,"j":-0.57},{"s":90.9,"j":0.17},{"s":91.0,"j":-0.22},
{"s":91.1,"j":0.58},{"s":91.2,"j":-0.74},{"s":91.3,"j":0.12},{"s":91.4,"j":-0.29},{"s":91.5,"j":0.91},{"s":91.6,"j":-0.51},{"s":91.7,"j":0.33},{"s":91.8,"j":-0.88},{"s":91.9,"j":0.04},{"s":92.0,"j":0.67},{"s":92.1,"j":-0.16},{"s":92.2,"j":0.82},{"s":92.3,"j":-0.63},{"s":92.4,"j":0.24},{"s":92.5,"j":-0.95},{"s":92.6,"j":0.46},{"s":92.7,"j":-0.38},{"s":92.8,"j":0.75},{"s":92.9,"j":-0.07},{"s":93.0,"j":0.97},{"s":93.1,"j":-0.57},{"s":93.2,"j":0.17},{"s":93.3,"j":-0.22},
{"s":93.4,"j":0.58},{"s":93.5,"j":-0.74},{"s":93.6,"j":0.12},{"s":93.7,"j":-0.29},{"s":93.8,"j":0.91},{"s":93.9,"j":-0.51},{"s":94.0,"j":0.33},{"s":94.1,"j":-0.88},{"s":94.2,"j":0.04},{"s":94.3,"j":0.67},{"s":94.4,"j":-0.16},{"s":94.5,"j":0.82},{"s":94.6,"j":-0.63},{"s":94.7,"j":0.24},{"s":95.1,"j":-0.95},{"s":95.3,"j":0.46},{"s":95.5,"j":-0.38},{"s":95.6,"j":0.75},{"s":95.8,"j":-0.07},{"s":96.0,"j":0.97},{"s":96.2,"j":-0.57},{"s":96.4,"j":0.17},{"s":96.5,"j":-0.22},
{"s":96.7,"j":0.58},{"s":96.9,"j":-0.74},{"s":97.1,"j":0.12},{"s":97.3,"j":-0.29},{"s":97.4,"j":0.91},{"s":97.6,"j":-0.51},{"s":97.8,"j":0.33},{"s":98.0,"j":-0.88},{"s":98.2,"j":0.04},{"s":98.3,"j":0.67},{"s":98.5,"j":-0.16},{"s":98.7,"j":0.82},{"s":98.9,"j":-0.63},{"s":99.1,"j":0.24},{"s":99.2,"j":-0.95},{"s":99.4,"j":0.46},{"s":99.6,"j":-0.38},{"s":99.8,"j":0.75},{"s":99.9,"j":-0.07},
{"s":100,"j":-0.96},{"s":100,"j":-0.82},{"s":100,"j":-0.69},{"s":100,"j":-0.55},{"s":100,"j":-0.41},{"s":100,"j":-0.27},{"s":100,"j":-0.14},{"s":100,"j":0.0},{"s":100,"j":0.14},{"s":100,"j":0.27},{"s":100,"j":0.41},{"s":100,"j":0.55},{"s":100,"j":0.69},{"s":100,"j":0.82},{"s":100,"j":0.96}
]
},
"layer":[
{"data":{"name":"dens"},
 "transform":[{"joinaggregate":[{"op":"min","field":"density","as":"m"}],"groupby":["time","score"]},{"filter":"datum.group == 'FAC'"},{"calculate":"(datum.time == 'Pre' ? 1 : 2) + 0.1","as":"xa"},{"calculate":"datum.xa + datum.m * 0.15038","as":"xe"}],
 "mark":{"type":"area","orient":"horizontal","color":"#4E6B70","opacity":0.6,"clip":true},
 "encoding":{
  "y":{"field":"score","type":"quantitative","scale":{"domain":[-5,105],"nice":false,"zero":false},"title":"Diagnostic Test score",
   "axis":{"values":[0,12.5,25,37.5,50,62.5,75,87.5,100],"labelExpr":"datum.value % 25 == 0 ? datum.label : ''","grid":true,"gridColor":"#7b7b7b","gridWidth":{"condition":{"test":"datum.value % 25 == 0","value":2.4},"value":1.5},"ticks":false,"domain":false,"labelFontSize":17,"labelColor":"#4d4d4d","labelPadding":8,"titleFontSize":21,"titleFontWeight":"normal","titleColor":"black","titlePadding":10,"labelFont":"Liberation Sans","titleFont":"Liberation Sans"}},
  "x":{"field":"xa","type":"quantitative","scale":{"domain":[0.4,2.6],"nice":false,"zero":false},"title":null,
   "axis":{"values":[1,2],"labelExpr":"datum.value == 1 ? 'Pre' : 'Post'","grid":true,"gridColor":"#7b7b7b","gridWidth":2.4,"ticks":false,"domain":false,"labelFontSize":17,"labelColor":"#4d4d4d","labelPadding":8,"labelFont":"Liberation Sans"}},
  "x2":{"field":"xe"},
  "detail":{"field":"time"}}},
{"data":{"name":"dens"},
 "transform":[{"joinaggregate":[{"op":"min","field":"density","as":"m"}],"groupby":["time","score"]},{"filter":"datum.group == 'FAC'"},{"calculate":"(datum.time == 'Pre' ? 1 : 2) + 0.1 + datum.m * 0.15038","as":"xa"},{"calculate":"(datum.time == 'Pre' ? 1 : 2) + 0.1 + datum.density * 0.15038","as":"xe"}],
 "mark":{"type":"area","orient":"horizontal","color":"#D4322B","opacity":0.6,"clip":true},
 "encoding":{"y":{"field":"score","type":"quantitative","scale":{"domain":[-5,105],"nice":false,"zero":false},"title":"Diagnostic Test score"},"x":{"field":"xa","type":"quantitative","scale":{"domain":[0.4,2.6],"nice":false,"zero":false},"title":null},"x2":{"field":"xe"},"detail":{"field":"time"}}},
{"data":{"name":"dens"},
 "transform":[{"joinaggregate":[{"op":"min","field":"density","as":"m"}],"groupby":["time","score"]},{"filter":"datum.group == 'No FAC'"},{"calculate":"(datum.time == 'Pre' ? 1 : 2) + 0.1 + datum.m * 0.15038","as":"xa"},{"calculate":"(datum.time == 'Pre' ? 1 : 2) + 0.1 + datum.density * 0.15038","as":"xe"}],
 "mark":{"type":"area","orient":"horizontal","color":"#35C8D7","opacity":0.6,"clip":true},
 "encoding":{"y":{"field":"score","type":"quantitative","scale":{"domain":[-5,105],"nice":false,"zero":false},"title":"Diagnostic Test score"},"x":{"field":"xa","type":"quantitative","scale":{"domain":[0.4,2.6],"nice":false,"zero":false},"title":null},"x2":{"field":"xe"},"detail":{"field":"time"}}},
{"data":{"name":"pre_fac"},"transform":[{"calculate":"1 - 0.248 + datum.j * 0.05","as":"xp"}],
 "mark":{"type":"circle","size":25,"opacity":1,"color":"#CC0036"},
 "encoding":{"y":{"field":"s","type":"quantitative","scale":{"domain":[-5,105],"nice":false,"zero":false},"title":"Diagnostic Test score"},"x":{"field":"xp","type":"quantitative","scale":{"domain":[0.4,2.6],"nice":false,"zero":false},"title":null}}},
{"data":{"name":"post_fac"},"transform":[{"calculate":"2 - 0.252 + datum.j * 0.05","as":"xp"}],
 "mark":{"type":"circle","size":25,"opacity":1,"color":"#CC0036"},
 "encoding":{"y":{"field":"s","type":"quantitative","scale":{"domain":[-5,105],"nice":false,"zero":false},"title":"Diagnostic Test score"},"x":{"field":"xp","type":"quantitative","scale":{"domain":[0.4,2.6],"nice":false,"zero":false},"title":null}}},
{"data":{"name":"pre_nofac"},"transform":[{"calculate":"1 - 0.148 + datum.j * 0.05","as":"xp"}],
 "mark":{"type":"circle","size":25,"opacity":1,"color":"#00C4DB"},
 "encoding":{"y":{"field":"s","type":"quantitative","scale":{"domain":[-5,105],"nice":false,"zero":false},"title":"Diagnostic Test score"},"x":{"field":"xp","type":"quantitative","scale":{"domain":[0.4,2.6],"nice":false,"zero":false},"title":null}}},
{"data":{"name":"post_nofac"},"transform":[{"calculate":"2 - 0.15 + datum.j * 0.05","as":"xp"}],
 "mark":{"type":"circle","size":25,"opacity":1,"color":"#00C4DB"},
 "encoding":{"y":{"field":"s","type":"quantitative","scale":{"domain":[-5,105],"nice":false,"zero":false},"title":"Diagnostic Test score"},"x":{"field":"xp","type":"quantitative","scale":{"domain":[0.4,2.6],"nice":false,"zero":false},"title":null}}},
{"data":{"name":"boxes"},"transform":[{"calculate":"(datum.time == 'Pre' ? 1 : 2) + (datum.group == 'FAC' ? -0.025 : 0.025)","as":"xc"},{"calculate":"datum.group + ' key'","as":"k"}],
 "mark":{"type":"square","size":0,"opacity":1},
 "encoding":{"y":{"field":"med","type":"quantitative","scale":{"domain":[-5,105],"nice":false,"zero":false},"title":"Diagnostic Test score"},"x":{"field":"xc","type":"quantitative","scale":{"domain":[0.4,2.6],"nice":false,"zero":false},"title":null},
  "fill":{"field":"k","type":"nominal","scale":{"domain":["FAC key","No FAC key"],"range":["#E8908B","#8ADFE8"]},
   "legend":{"title":null,"orient":"none","legendX":619,"legendY":265.5,"padding":0,"zindex":0,"symbolType":"square","symbolSize":961,"symbolStrokeWidth":0,"symbolOpacity":1,"labelExpr":"''","labelFontSize":17,"labelFont":"Liberation Sans","labelOffset":12,"rowPadding":5}}}},
{"data":{"name":"boxes"},"transform":[{"calculate":"(datum.time == 'Pre' ? 1 : 2) + (datum.group == 'FAC' ? -0.025 : 0.025)","as":"xc"}],
 "mark":{"type":"square","size":0,"opacity":1},
 "encoding":{"y":{"field":"med","type":"quantitative","scale":{"domain":[-5,105],"nice":false,"zero":false},"title":"Diagnostic Test score"},"x":{"field":"xc","type":"quantitative","scale":{"domain":[0.4,2.6],"nice":false,"zero":false},"title":null},
  "color":{"field":"group","type":"nominal","scale":{"domain":["FAC","No FAC"],"range":["#DD5C61","#1CC8D8"]},
   "legend":{"title":"Group","orient":"none","legendX":619,"legendY":235,"padding":0,"zindex":2,"symbolType":"M-0.84,-0.52H0.84V0.52H-0.84Z M-0.84,0H0.84 M0,-0.52V-1 M0,0.52V1","symbolSize":961,"symbolStrokeColor":"black","symbolStrokeWidth":2,"symbolOpacity":1,"labelExpr":"datum.value == 'FAC' ? 'FAC (n=219)' : 'No FAC (n=1182)'","labelFontSize":17,"labelColor":"black","labelFont":"Liberation Sans","labelOffset":12,"titleFontSize":21,"titleFontWeight":"normal","titleColor":"black","titleFont":"Liberation Sans","titlePadding":9,"rowPadding":5}}}},
{"data":{"name":"boxes"},"transform":[{"calculate":"(datum.time == 'Pre' ? 1 : 2) + (datum.group == 'FAC' ? -0.025 : 0.025)","as":"xc"}],
 "mark":{"type":"rule","color":"black","strokeWidth":3},
 "encoding":{"y":{"field":"lo","type":"quantitative","scale":{"domain":[-5,105],"nice":false,"zero":false},"title":"Diagnostic Test score"},"y2":{"field":"hi"},"x":{"field":"xc","type":"quantitative","scale":{"domain":[0.4,2.6],"nice":false,"zero":false},"title":null}}},
{"data":{"name":"boxes"},"transform":[{"calculate":"(datum.time == 'Pre' ? 1 : 2) + (datum.group == 'FAC' ? -0.025 : 0.025)","as":"xc"},{"calculate":"datum.xc - 0.022","as":"xl"},{"calculate":"datum.xc + 0.022","as":"xr"}],
 "mark":{"type":"bar","stroke":"black","strokeWidth":1.8,"opacity":1},
 "encoding":{"y":{"field":"q1","type":"quantitative","scale":{"domain":[-5,105],"nice":false,"zero":false},"title":"Diagnostic Test score"},"y2":{"field":"q3"},"x":{"field":"xl","type":"quantitative","scale":{"domain":[0.4,2.6],"nice":false,"zero":false},"title":null},"x2":{"field":"xr"},
  "fill":{"condition":{"test":"datum.group == 'FAC'","value":"#E58380"},"value":"#87DEE8"}}},
{"data":{"name":"boxes"},"transform":[{"calculate":"(datum.time == 'Pre' ? 1 : 2) + (datum.group == 'FAC' ? -0.025 : 0.025)","as":"xc"},{"calculate":"datum.xc - 0.022","as":"xl"},{"calculate":"datum.xc + 0.022","as":"xr"}],
 "mark":{"type":"rule","color":"black","strokeWidth":3},
 "encoding":{"y":{"field":"med","type":"quantitative","scale":{"domain":[-5,105],"nice":false,"zero":false},"title":"Diagnostic Test score"},"x":{"field":"xl","type":"quantitative","scale":{"domain":[0.4,2.6],"nice":false,"zero":false},"title":null},"x2":{"field":"xr"}}}
]
}
